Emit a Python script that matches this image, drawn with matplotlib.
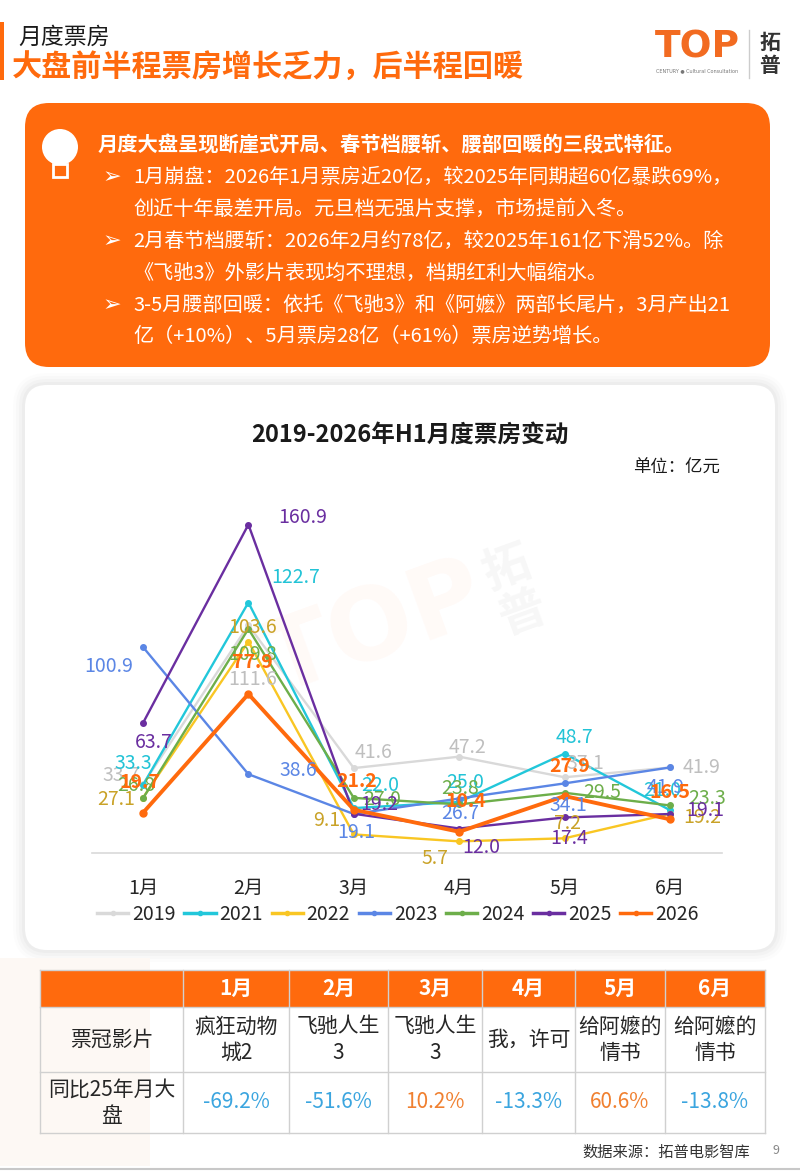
import matplotlib
matplotlib.use('Agg')
import matplotlib.pyplot as plt
from matplotlib.patches import FancyBboxPatch, Rectangle, Circle
from matplotlib.lines import Line2D

plt.rcParams['font.family'] = ['Noto Sans CJK SC', 'DejaVu Sans']

# data (亿元)
months = ['1月', '2月', '3月', '4月', '5月', '6月']
years = ['2019', '2021', '2022', '2023', '2024', '2025', '2026']
box_2019 = [33.7, 111.6, 41.6, 47.2, 37.1, 41.9]
box_2021 = [33.3, 122.7, 22.0, 25.0, 48.7, 21.0]
box_2022 = [27.1, 103.6, 9.1, 5.7, 7.2, 19.2]
box_2023 = [100.9, 38.6, 19.1, 26.7, 34.1, 41.9]
box_2024 = [26.8, 109.8, 27.0, 23.8, 29.5, 23.3]
box_2025 = [63.7, 160.9, 19.2, 12.0, 17.4, 19.1]
box_2026 = [19.7, 77.9, 21.2, 10.4, 27.9, 16.5]
series = [box_2019, box_2021, box_2022, box_2023, box_2024, box_2025, box_2026]

top_films = ['疯狂动物\n城2', '飞驰人生\n3', '飞驰人生\n3', '我，许可', '给阿嬷的\n情书', '给阿嬷的\n情书']
yoy_2025 = [-69.2, -51.6, 10.2, -13.3, 60.6, -13.8]

ORANGE = '#FF6A0D'
line_colors = ['#D9D9D9', '#22C7DA', '#F9C623', '#5B86E5', '#6DAE4A', '#6A2EA0', ORANGE]
label_colors = ['#BFBFBF', '#22C3D6', '#C9A227', '#5B86E5', '#6DAE4A', '#6A2EA0', ORANGE]

# label offsets in pixels (dx, dy up), one per month
label_offsets = [
    [(-22, 9), (4, -54), (20, 16), (8, 9), (21, 14), (32, 0)],
    [(-10, 22), (47, 25), (26, 23), (6, 19), (10, 16), (-8, 20)],
    [(-27, -2), (4, 14), (-27, 14), (-24, -17), (3, 15), (32, -4)],
    [(-34, -19), (50, 4), (2, -18), (1, -15), (4, -22), (-4, -20)],
    [(-7, 13), (4, -26), (28, -2), (1, 16), (38, 0), (37, 7)],
    [(11, -20), (54, 7), (25, 9), (22, -19), (5, -21), (35, 4)],
    [(-3, 30), (4, 31), (3, 28), (7, 30), (5, 30), (0, 27)],
]

fig = plt.figure(figsize=(8, 11.73), dpi=100)

# page layer in pixel coords
bg = fig.add_axes([0, 0, 1, 1], zorder=0)
bg.set_xlim(0, 800)
bg.set_ylim(1173, 0)
bg.axis('off')

# header
bg.add_patch(Rectangle((0, 22), 4, 58, fc=ORANGE, ec='none'))
bg.text(18, 37, '月度票房', fontsize=16.5, color='#1a1a1a', ha='left', va='center')
bg.text(12, 68, '大盘前半程票房增长乏力，后半程回暖', fontsize=21.7, fontweight='bold',
        color=ORANGE, ha='left', va='center')
bg.text(697, 47, 'TOP', fontsize=27, fontweight='bold', color='#F26B21', ha='center',
        va='center', family='DejaVu Sans')
bg.text(697, 71, 'CENTURY ● Cultural Consultation', fontsize=3.5, color='#777777',
        ha='center', va='center', family='DejaVu Sans')
bg.plot([749, 749], [30, 78], color='#CCCCCC', lw=1)
bg.text(770, 42, '拓', fontsize=15, fontweight='bold', color='#333333', ha='center', va='center')
bg.text(770, 65, '普', fontsize=15, fontweight='bold', color='#333333', ha='center', va='center')

# orange summary box
bg.add_patch(FancyBboxPatch((25, 103), 745, 264, boxstyle='round,pad=0,rounding_size=24',
                            fc=ORANGE, ec='none'))
bg.add_patch(Circle((60, 147), 18, fc='white', ec='none'))
bg.add_patch(Rectangle((53, 164), 14, 13, fc='none', ec='white', lw=2))
bg.text(98, 145, '月度大盘呈现断崖式开局、春节档腰斩、腰部回暖的三段式特征。', fontsize=14.6,
        fontweight='bold', color='white', ha='left', va='center')
lines = [
    (True, '1月崩盘：2026年1月票房近20亿，较2025年同期超60亿暴跌69%，'),
    (False, '创近十年最差开局。元旦档无强片支撑，市场提前入冬。'),
    (True, '2月春节档腰斩：2026年2月约78亿，较2025年161亿下滑52%。除'),
    (False, '《飞驰3》外影片表现均不理想，档期红利大幅缩水。'),
    (True, '3-5月腰部回暖：依托《飞驰3》和《阿嬷》两部长尾片，3月产出21'),
    (False, '亿（+10%）、5月票房28亿（+61%）票房逆势增长。'),
]
for k, (bullet, txt) in enumerate(lines):
    y = 177 + 32 * k
    if bullet:
        bg.text(103, y, '➢', fontsize=16, color='white', ha='left', va='center',
                family=['DejaVu Sans'])
    bg.text(133, y, txt, fontsize=14.5, color='white', ha='left', va='center')

# chart card with soft shadow
for grow, a in [(12, 0.02), (9, 0.03), (6, 0.04), (3, 0.05)]:
    bg.add_patch(FancyBboxPatch((25 - grow, 385 - grow), 750 + 2 * grow, 565 + 2 * grow,
                                boxstyle='round,pad=0,rounding_size=%d' % (22 + grow),
                                fc='#888888', ec='none', alpha=a))
bg.add_patch(FancyBboxPatch((25, 385), 750, 565, boxstyle='round,pad=0,rounding_size=22',
                            fc='white', ec='none'))
bg.text(410, 435, '2019-2026年H1月度票房变动', fontsize=17, fontweight='bold',
        color='#1a1a1a', ha='center', va='center')
bg.text(720, 468, '单位：亿元', fontsize=12.5, color='#1a1a1a', ha='right', va='center')
# faint watermark
bg.text(375, 630, 'TOP', fontsize=72, fontweight='bold', color=ORANGE, alpha=0.035,
        rotation=20, ha='center', va='center', family='DejaVu Sans')
bg.text(515, 590, '拓\n普', fontsize=34, fontweight='bold', color='#999999', alpha=0.08,
        rotation=20, ha='center', va='center', linespacing=1.0)

# bottom page tint
bg.add_patch(Rectangle((0, 958), 150, 208, fc='#FDF8F4', ec='none'))

# line chart
ax = fig.add_axes([92 / 800, 1 - 853 / 1173, 630 / 800, 347 / 1173], zorder=1)
ax.patch.set_alpha(0)
x = list(range(len(months)))
for i, (yr, vals) in enumerate(zip(years, series)):
    last = yr == '2026'
    ax.plot(x, vals, color=line_colors[i], lw=2.8 if last else 1.7, marker='o',
            ms=5 if last else 4, zorder=3 + i)
    for j, v in enumerate(vals):
        dx, dy = label_offsets[i][j]
        z = 20 if last else 11 + i
        ax.annotate(f'{v:.1f}', (j, v), xytext=(dx, dy), textcoords='offset pixels',
                    ha='center', va='center', fontsize=14, color=label_colors[i],
                    fontweight='bold' if last else 'normal', zorder=z)
ax.set_xlim(-0.484, 5.494)
ax.set_ylim(0, 170)
ax.set_xticks(x)
ax.set_xticklabels(months, fontsize=14, color='#262626')
ax.set_yticks([])
ax.tick_params(axis='x', length=0, pad=18)
for s in ['top', 'left', 'right']:
    ax.spines[s].set_visible(False)
ax.spines['bottom'].set_color('#D9D9D9')
ax.spines['bottom'].set_linewidth(1.2)

handles = [Line2D([0], [0], color=c, lw=2.5, marker='o', ms=3) for c in line_colors]
fig.legend(handles, years, loc='center', bbox_to_anchor=(398 / 800, 1 - 914 / 1173), ncol=7,
           frameon=False, fontsize=14, handlelength=1.6, handletextpad=0.2,
           columnspacing=0.45, labelcolor='#262626')

# table
xs = [40, 183, 289, 388, 482, 575, 665, 765]
ys = [970, 1007, 1072, 1133]
bg.add_patch(Rectangle((xs[0], ys[0]), xs[-1] - xs[0], ys[1] - ys[0], fc=ORANGE, ec='none'))
for xv in xs:
    bg.plot([xv, xv], [ys[0], ys[-1]], color='#D0D0D0', lw=1)
for yv in ys:
    bg.plot([xs[0], xs[-1]], [yv, yv], color='#D0D0D0', lw=1)
for c in range(len(months)):
    cx = (xs[c + 1] + xs[c + 2]) / 2
    bg.text(cx, (ys[0] + ys[1]) / 2, months[c], fontsize=15, fontweight='bold', color='white',
            ha='center', va='center')
    bg.text(cx, (ys[1] + ys[2]) / 2, top_films[c], fontsize=15, color='#262626',
            ha='center', va='center', linespacing=1.25)
    v = yoy_2025[c]
    bg.text(cx, (ys[2] + ys[3]) / 2, f'{v:.1f}%', fontsize=15,
            color='#3BA5DF' if v < 0 else '#F08030', ha='center', va='center')
cx0 = (xs[0] + xs[1]) / 2
bg.text(cx0, (ys[1] + ys[2]) / 2, '票冠影片', fontsize=15, color='#262626', ha='center', va='center')
bg.text(cx0, (ys[2] + ys[3]) / 2, '同比25年月大\n盘', fontsize=15, color='#262626',
        ha='center', va='center', linespacing=1.25)

# footer
bg.text(750, 1152, '数据来源：拓普电影智库', fontsize=11, color='#333333', ha='right', va='center')
bg.text(776, 1150, '9', fontsize=9, color='#888888', ha='center', va='center')
bg.plot([0, 800], [1169, 1169], color='#C8C8C8', lw=1.5)

fig.savefig('out.png', dpi=100)
